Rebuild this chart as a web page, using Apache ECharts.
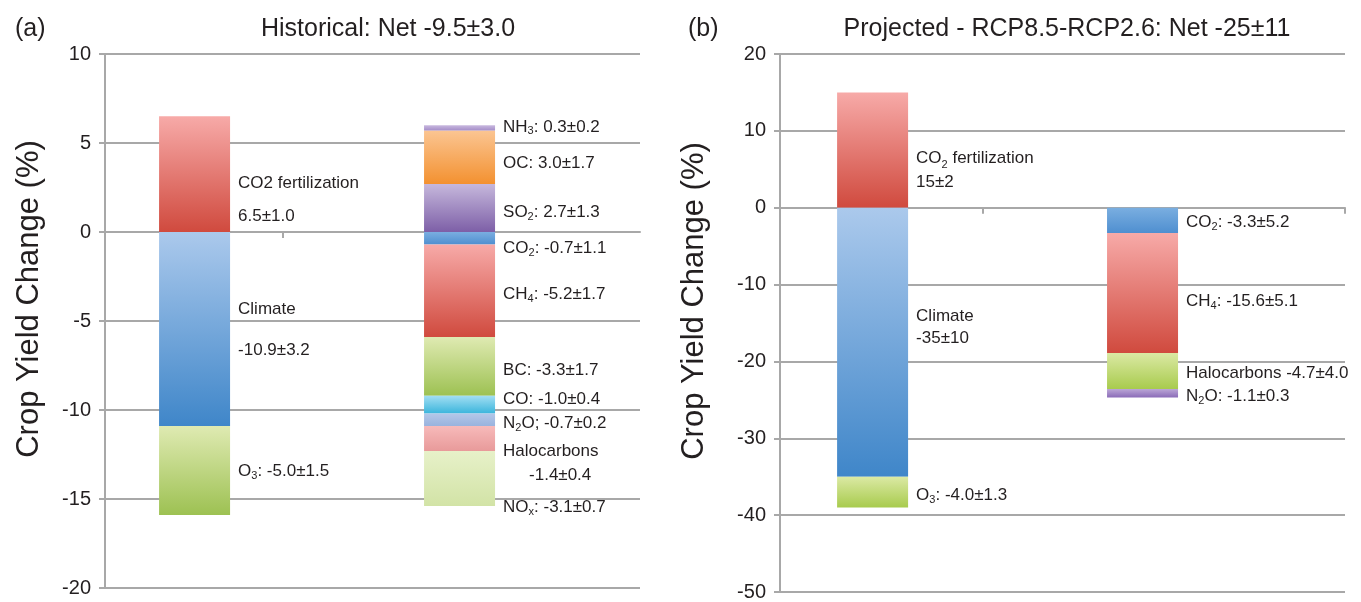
<!DOCTYPE html>
<html><head><meta charset="utf-8">
<script src="https://cdn.jsdelivr.net/npm/echarts@6/dist/echarts.min.js"></script>
<style>html,body{margin:0;padding:0;background:#fff}#c{width:1361px;height:602px}</style>
</head><body><div id="c"></div>
<script>
// ---------- DATA ----------
// Panel (a): Historical (stacking order: positives bottom-up, negatives top-down)
const histNames  = ['CO2 fertilization','Climate','O3','SO2','OC','NH3','CO2','CH4','BC','CO','N2O','Halocarbons','NOx'];
const histBar    = [0,0,0,1,1,1,1,1,1,1,1,1,1];
const histValues = [6.5,-10.9,-5.0,2.7,3.0,0.3,-0.7,-5.2,-3.3,-1.0,-0.7,-1.4,-3.1];
const histLabels = [
  'CO2 fertilization\n6.5±1.0',
  'Climate\n-10.9±3.2',
  'O{s|3}: -5.0±1.5',
  'SO{s|2}: 2.7±1.3',
  'OC: 3.0±1.7',
  'NH{s|3}: 0.3±0.2',
  'CO{s|2}: -0.7±1.1',
  'CH{s|4}: -5.2±1.7',
  'BC: -3.3±1.7',
  'CO: -1.0±0.4',
  'N{s|2}O; -0.7±0.2',
  'Halocarbons\n{ind|}-1.4±0.4',
  'NO{s|x}: -3.1±0.7'
];
const histYTicks = [-20,-15,-10,-5,0,5,10];

// Panel (b): Projected RCP8.5-RCP2.6
const projNames  = ['CO2 fertilization','Climate','O3','CO2','CH4','Halocarbons','N2O'];
const projBar    = [0,0,0,1,1,1,1];
const projValues = [15,-35,-4.0,-3.3,-15.6,-4.7,-1.1];
const projLabels = [
  'CO{s|2} fertilization\n15±2',
  'Climate\n-35±10',
  'O{s|3}: -4.0±1.3',
  'CO{s|2}: -3.3±5.2',
  'CH{s|4}: -15.6±5.1',
  'Halocarbons -4.7±4.0',
  'N{s|2}O: -1.1±0.3'
];
const projYTicks = [-50,-40,-30,-20,-10,0,10,20];

const titles = ['Historical: Net -9.5±3.0', 'Projected - RCP8.5-RCP2.6: Net -25±11'];
const panelTags = ['(a)', '(b)'];
const yName = 'Crop Yield Change (%)';

// ---------- STYLE ----------
const FONT = "'Liberation Sans',Arial,sans-serif";
const TXT = '#231f20';
const grad = {
  red:    ['#f7aaa8','#d04a3e'],
  blue:   ['#abc9ec','#3f86c9'],
  green:  ['#dfeab2','#9dc152'],
  orange: ['#fbc592','#f39130'],
  purple: ['#c6b8dc','#7d5fa7'],
  lav:    ['#c9b9df','#a48cc8'],
  blue2:  ['#7aaee0','#4f8fd0'],
  cyan:   ['#a2def3','#3ab5dc'],
  lblue:  ['#b3c7e8','#99b3de'],
  pink:   ['#f7baba','#e89a9a'],
  lgreen: ['#e7f1c9','#d2e3a6'],
  green2: ['#dbe9a4','#a8cb4d'],
  purp2:  ['#bba6d6','#8a6bb8']
};
const histColor = ['red','blue','green','purple','orange','lav','blue2','red','green','cyan','lblue','pink','lgreen'];
const projColor = ['red','blue','green2','blue2','red','green2','purp2'];
const histDy = [26,1,1,4,6,-1,10,4,4,-5,4,25,29];
const histLH = [33,41,20,20,20,20,20,20,20,20,20,24,20];
const projDy = [20,-15,3,2,8,2,3];
const projLH = [24,22,20,20,20,20,20];

function g(key){
  const c = grad[key];
  return new echarts.graphic.LinearGradient(0,0,0,1,[{offset:0,color:c[0]},{offset:1,color:c[1]}]);
}

function buildSeries(names, bars, values, labels, colors, dys, lhs, panel){
  return names.map((n, i) => {
    // value first, bar position second (so the value dimension is the stacked one)
    const data = [0,1].map(b => b === bars[i] ? [values[i], b] : ['-', b]);
    return {
      type: 'bar', name: n, stack: 'p' + panel,
      xAxisIndex: panel, yAxisIndex: panel,
      encode: {x: 1, y: 0},
      barWidth: 71, data: data,
      itemStyle: {color: g(colors[i])},
      label: {
        show: true, position: 'right', distance: 8,
        offset: [0, dys[i]],
        formatter: labels[i],
        fontFamily: FONT, fontSize: 17, color: TXT,
        lineHeight: lhs[i], align: 'left',
        rich: {
          s:   {fontFamily: FONT, fontSize: 11, color: TXT, verticalAlign: 'bottom', padding: [9,0,0,0], lineHeight: lhs[i]},
          ind: {width: 26, lineHeight: lhs[i]}
        }
      },
      emphasis: {disabled: true},
      animation: false
    };
  });
}

const AX = '#a8a8a8';
function yAxis(idx, min, max, interval, gap){
  return {
    type: 'value', gridIndex: idx, min: min, max: max, interval: interval,
    name: yName, nameLocation: 'middle', nameGap: gap, nameRotate: 90,
    nameTextStyle: {fontFamily: FONT, fontSize: 31, color: TXT, padding: [0, 0, 0, 44]},
    axisLine: {show: true, onZero: false, lineStyle: {color: AX, width: 2}},
    axisTick: {show: true, length: 6, lineStyle: {color: AX, width: 2}},
    axisLabel: {fontFamily: FONT, fontSize: 20, color: TXT, margin: 14},
    splitLine: {show: true, lineStyle: {color: AX, width: 2}}
  };
}
function xAxis(idx, min, max, ticks){
  return {
    type: 'value', gridIndex: idx, min: min, max: max,
    axisLine: {show: true, onZero: true, lineStyle: {color: AX, width: 2}},
    axisTick: {show: true, length: 6, customValues: ticks, lineStyle: {color: AX, width: 2}},
    axisLabel: {show: false},
    splitLine: {show: false}
  };
}

const titleStyle = {fontFamily: FONT, fontSize: 25, fontWeight: 'normal', color: TXT};
const chart = echarts.init(document.getElementById('c'), null, {renderer: 'canvas'});
chart.setOption({
  backgroundColor: '#ffffff',
  animation: false,
  title: [
    {text: panelTags[0], left: 10, top: 12, textStyle: titleStyle},
    {text: titles[0], left: 383, top: 12, textAlign: 'center', textStyle: titleStyle},
    {text: panelTags[1], left: 683, top: 12, textStyle: titleStyle},
    {text: titles[1], left: 1062, top: 12, textAlign: 'center', textStyle: titleStyle}
  ],
  grid: [
    {left: 105, top: 54, width: 535, height: 534},
    {left: 780, top: 54, width: 565, height: 539}
  ],
  xAxis: [xAxis(0, -0.338, 1.681, [0.334, 1.0]), xAxis(1, -0.343, 1.75, [0.409, 0.87, 1.75])],
  yAxis: [yAxis(0, histYTicks[0], histYTicks[histYTicks.length-1], 5, 60),
          yAxis(1, projYTicks[0], projYTicks[projYTicks.length-1], 10, 70)],
  series: buildSeries(histNames, histBar, histValues, histLabels, histColor, histDy, histLH, 0)
    .concat(buildSeries(projNames, projBar, projValues, projLabels, projColor, projDy, projLH, 1))
});
</script>
</body></html>
